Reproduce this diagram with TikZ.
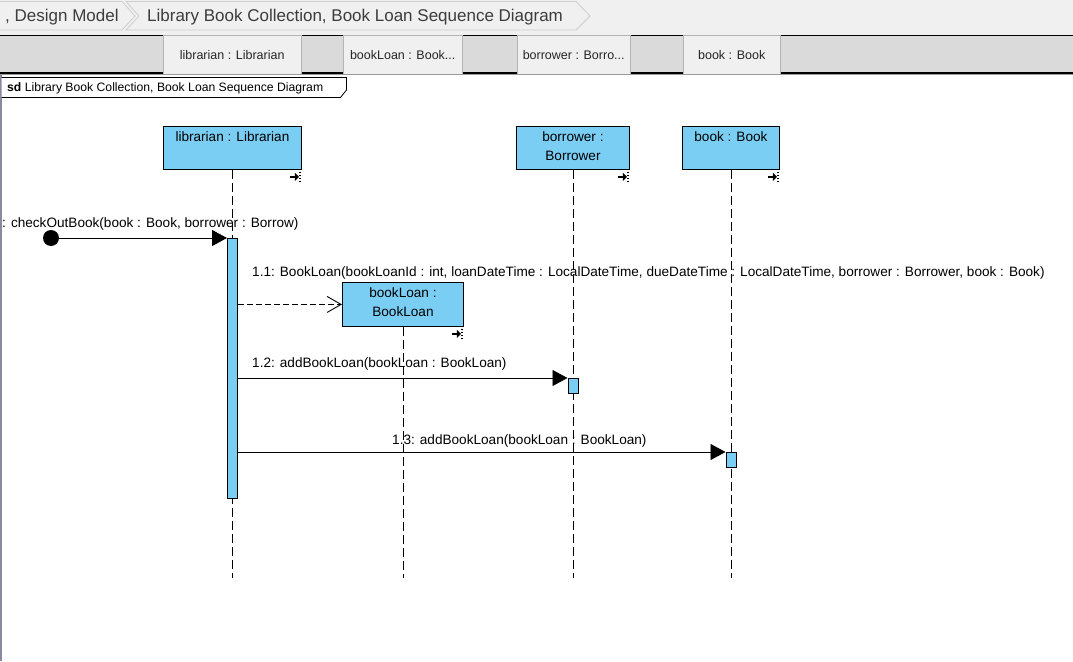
\documentclass[tikz,border=0pt]{standalone}
\usepackage{fontspec}
\setmainfont{Liberation Sans}
\usetikzlibrary{arrows.meta}
\definecolor{boxblue}{RGB}{122,206,244}
\definecolor{tabgray}{RGB}{218,218,218}
\definecolor{lightbg}{RGB}{240,240,240}
\definecolor{tabborder}{RGB}{180,180,180}
\definecolor{crumbline}{RGB}{205,205,205}
\definecolor{crumbtext}{RGB}{60,60,60}
\definecolor{edgeline}{RGB}{136,136,160}
\tikzset{
  txt/.style={inner sep=0pt, font=\fontsize{13.6}{16}\selectfont},
  lifebox/.style={draw=black, fill=boxblue, line width=0.9pt, inner sep=0pt},
  lifeline/.style={draw=black, line width=0.9pt, dash pattern=on 9pt off 4pt},
  actbar/.style={draw=black, fill=boxblue, line width=0.9pt, inner sep=0pt, minimum width=10pt},
  msg/.style={draw=black, line width=0.9pt, -{Triangle[length=15pt,width=16pt]}},
  create/.style={draw=black, line width=0.9pt, dash pattern=on 6pt off 3pt, -{Straight Barb[length=14pt,width=16pt,line width=0.9pt]}},
  tabnode/.style={draw=tabborder, fill=lightbg, inner sep=0pt, minimum height=39pt, anchor=north west, font=\fontsize{12.5}{14}\selectfont, text=black!85},
  endicon/.pic={
    \draw[line width=2.2pt] (-12,7) -- (-6,7);
    \fill (-7,3) -- (-3,7) -- (-7,11) -- cycle;
    \draw[line width=2pt, dash pattern=on 1.5pt off 1.5pt] (-1.5,2) -- (-1.5,13);
  }
}
\begin{document}
\begin{tikzpicture}[x=1pt,y=-1pt]
\useasboundingbox (0,0) rectangle (1073,661);
\fill[white] (0,0) rectangle (1073,661);
% breadcrumb bar
\fill[lightbg] (0,0) rectangle (1073,35);
\draw[crumbline, line width=0.8pt] (-1,1.5) -- (122,1.5) -- (135,16) -- (122,30) -- (-1,30);
\draw[crumbline, line width=0.8pt] (126,1.5) -- (576,1.5) -- (590,16) -- (576,30) -- (126,30) -- (139,16) -- cycle;
\node[anchor=base west, inner sep=0pt, font=\fontsize{17}{20}\selectfont, text=crumbtext] (bc1) at (5,22) {, Design Model};
\node[anchor=base west, inner sep=0pt, font=\fontsize{17}{20}\selectfont, text=crumbtext] (bc2) at (147,22) {Library Book Collection, Book Loan Sequence Diagram};
% tab bar
\fill[tabgray] (0,35) rectangle (1073,74);
\draw[black, line width=1pt] (0,35.5) -- (1073,35.5);
\draw[black, line width=2pt] (0,72.5) -- (1073,72.5);
\node[tabnode, minimum width=138pt] (tab1) at (163,35) {librarian : Librarian};
\node[tabnode, minimum width=119pt] (tab2) at (343,35) {bookLoan : Book...};
\node[tabnode, minimum width=113pt] (tab3) at (517,35) {borrower : Borro...};
\node[tabnode, minimum width=97pt] (tab4) at (683,35) {book : Book};
\draw[black!40, line width=1pt] (0,74.5) -- (1073,74.5);
% left edge
\draw[edgeline, line width=1.5pt] (0.75,75) -- (0.75,661);
% sd frame
\draw[black, line width=0.8pt, fill=white] (1.5,77.5) -- (346.5,77.5) -- (346.5,90) -- (340.5,97.5) -- (1.5,97.5);
\node[anchor=base west, inner sep=0pt, font=\fontsize{12.2}{14}\selectfont] (sd) at (7,92) {\textbf{sd} Library Book Collection, Book Loan Sequence Diagram};
% lifeline heads
\node[lifebox, minimum width=138pt, minimum height=43pt, anchor=north west] (lib) at (163,126) {};
\node[lifebox, minimum width=113pt, minimum height=43pt, anchor=north west] (bor) at (516,126) {};
\node[lifebox, minimum width=97pt, minimum height=43pt, anchor=north west] (bk) at (682,126) {};
\node[lifebox, minimum width=121pt, minimum height=44pt, anchor=north west] (bl) at (342,282) {};
\node[txt, anchor=base] (libt) at (lib.north |- 0,141) {librarian : Librarian};
\node[txt, anchor=base] (bort1) at (bor.north |- 0,141) {borrower :};
\node[txt, anchor=base] (bort2) at (bor.north |- 0,160) {Borrower};
\node[txt, anchor=base] (bkt) at (bk.north |- 0,141) {book : Book};
\node[txt, anchor=base] (blt1) at (bl.north |- 0,297) {bookLoan :};
\node[txt, anchor=base] (blt2) at (bl.north |- 0,316) {BookLoan};
\pic at (lib.south east) {endicon};
\pic at (bor.south east) {endicon};
\pic at (bk.south east) {endicon};
\pic at (bl.south east) {endicon};
% lifelines
\coordinate (lend) at (0,578);
\draw[lifeline] (lib.south) -- (lib.south |- lend);
\draw[lifeline] (bl.south) -- (bl.south |- lend);
\draw[lifeline] (bor.south) -- (bor.south |- lend);
\draw[lifeline] (bk.south) -- (bk.south |- lend);
% activations
\node[actbar, minimum height=260pt, anchor=north] (a0) at (lib.south |- 0,238) {};
\node[actbar, minimum height=15pt, anchor=north] (a1) at (bor.south |- 0,378) {};
\node[actbar, minimum height=15pt, anchor=north] (a2) at (bk.south |- 0,452) {};
% found message
\node[circle, fill=black, minimum size=16pt, inner sep=0pt] (start) at (51,238) {};
\draw[msg] (start.center) -- (a0.north west);
\node[txt, anchor=base west] (m0) at (2,227) {: checkOutBook(book : Book, borrower : Borrow)};
% 1.1 create
\draw[create] (bl.west -| a0.east) -- (bl.west);
\node[txt, anchor=base west] (m1) at (252,276) {1.1: BookLoan(bookLoanId : int, loanDateTime : LocalDateTime, dueDateTime : LocalDateTime, borrower : Borrower, book : Book)};
% 1.2
\draw[msg] (a1.north west -| a0.east) -- (a1.north west);
\node[txt, anchor=base west] (m2) at (252,367) {1.2: addBookLoan(bookLoan : BookLoan)};
% 1.3
\draw[msg] (a2.north west -| a0.east) -- (a2.north west);
\node[txt, anchor=base west] (m3) at (392,444) {1.3: addBookLoan(bookLoan : BookLoan)};
\end{tikzpicture}
\end{document}
